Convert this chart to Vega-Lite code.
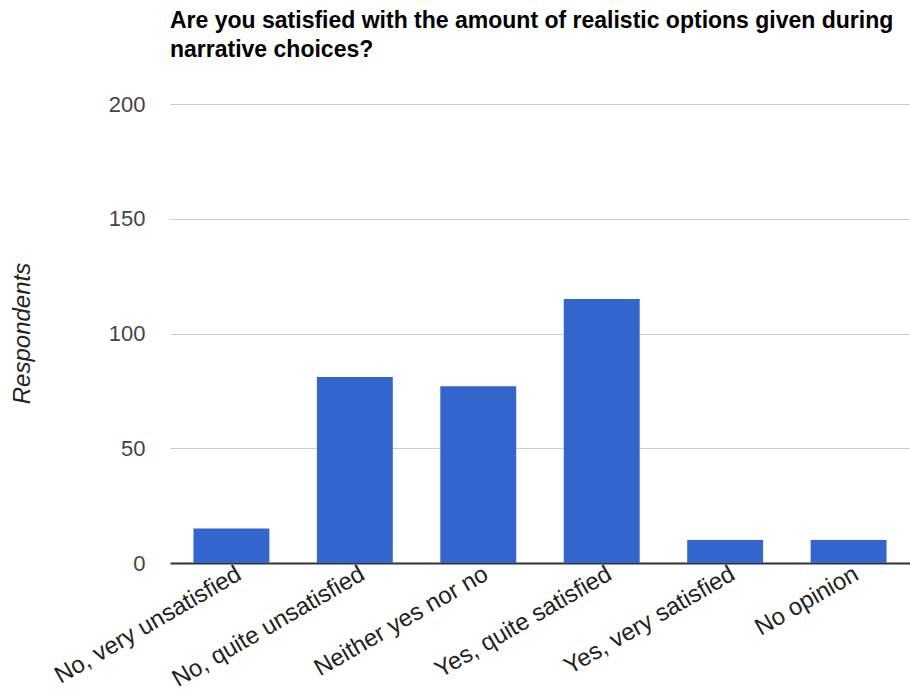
{
  "$schema": "https://vega.github.io/schema/vega-lite/v6.json",
  "autosize": "none",
  "width": 740,
  "height": 459,
  "padding": {"left": 170, "top": 104, "right": 0, "bottom": 130},
  "background": "white",
  "title": {
    "text": ["Are you satisfied with the amount of realistic options given during", "narrative choices?"],
    "anchor": "start",
    "frame": "group",
    "font": "Liberation Sans",
    "fontSize": 23,
    "fontWeight": "bold",
    "color": "#000000",
    "lineHeight": 29,
    "baseline": "alphabetic",
    "offset": 13
  },
  "data": {
    "values": [
      {"answer": "No, very unsatisfied", "respondents": 15},
      {"answer": "No, quite unsatisfied", "respondents": 81},
      {"answer": "Neither yes nor no", "respondents": 77},
      {"answer": "Yes, quite satisfied", "respondents": 115},
      {"answer": "Yes, very satisfied", "respondents": 10},
      {"answer": "No opinion", "respondents": 10}
    ]
  },
  "config": {
    "view": {"stroke": null},
    "axis": {"labelFont": "Liberation Sans", "titleFont": "Liberation Sans"}
  },
  "mark": {"type": "bar", "color": "#3366cc"},
  "encoding": {
    "x": {
      "field": "answer",
      "type": "nominal",
      "sort": null,
      "scale": {"paddingInner": 0.385, "paddingOuter": 0.19},
      "axis": {
        "title": null,
        "labelAngle": -30,
        "labelAlign": "right",
        "labelBaseline": "middle",
        "labelFontSize": 24,
        "labelColor": "#222222",
        "labelPadding": 9,
        "labelOffset": 8,
        "ticks": false,
        "domainColor": "#333333",
        "domainWidth": 2,
        "labelLimit": 400
      }
    },
    "y": {
      "field": "respondents",
      "type": "quantitative",
      "scale": {"domain": [0, 200], "nice": false},
      "axis": {
        "title": "Respondents",
        "titleFontStyle": "italic",
        "titleFontWeight": "normal",
        "titleFontSize": 24,
        "titleColor": "#222222",
        "titleX": -148,
        "titleY": 229,
        "titleAlign": "center",
        "titleBaseline": "middle",
        "values": [0, 50, 100, 150, 200],
        "labelFontSize": 22,
        "labelColor": "#444444",
        "labelPadding": 25,
        "ticks": false,
        "domain": false,
        "gridColor": "#cccccc",
        "gridWidth": 1
      }
    }
  }
}
